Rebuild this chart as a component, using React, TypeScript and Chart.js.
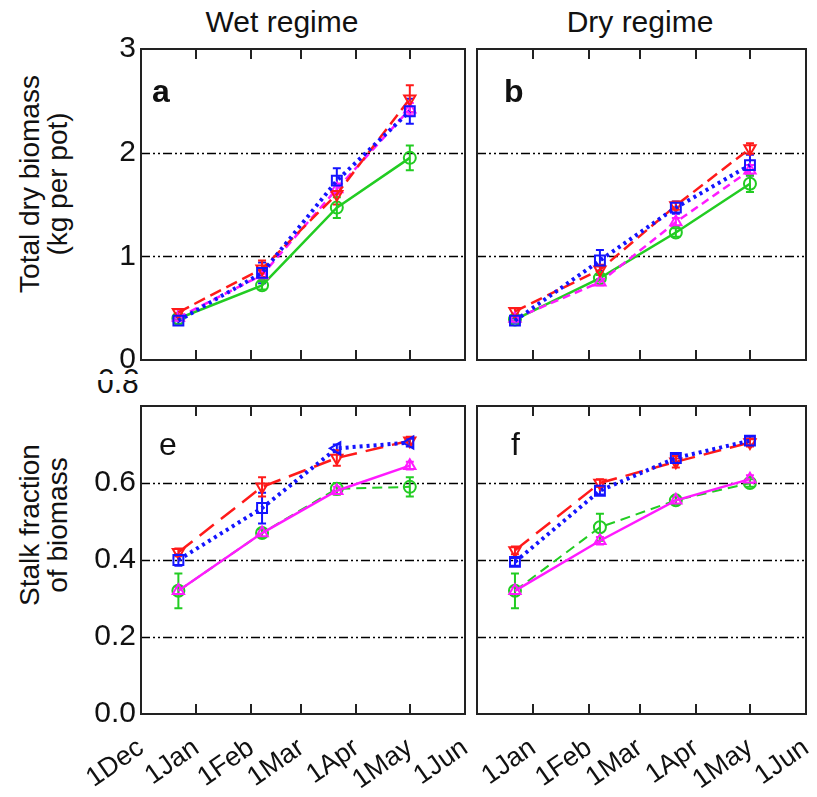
import React, { useEffect, useRef } from 'react';
import { Chart, registerables } from 'chart.js';

Chart.register(...registerables);

const FONT = '"Liberation Sans", Arial, Helvetica, sans-serif';

// ---- axes ----
const tickDays = [0, 31, 62, 90, 121, 151, 182]; // days since 1 Dec
const tickLabels = ['1Dec', '1Jan', '1Feb', '1Mar', '1Apr', '1May', '1Jun'];
const sampleDays = [21, 68, 110, 151];
const biomassGrid = [1, 2];
const fractionGrid = [0.2, 0.4, 0.6];

// ---- panel a: wet regime, total dry biomass (kg per pot) ----
const wetBiomassRed = [0.46, 0.88, 1.6, 2.52];
const wetBiomassRedErr = [0.03, 0.08, 0.1, 0.13];
const wetBiomassBlue = [0.38, 0.84, 1.73, 2.4];
const wetBiomassBlueErr = [0.03, 0.1, 0.12, 0.12];
const wetBiomassMagenta = [0.41, 0.82, 1.65, 2.42];
const wetBiomassMagentaErr = [0.02, 0.05, 0.05, 0.06];
const wetBiomassGreen = [0.4, 0.72, 1.47, 1.95];
const wetBiomassGreenErr = [0.02, 0.04, 0.1, 0.12];

// ---- panel b: dry regime, total dry biomass ----
const dryBiomassRed = [0.47, 0.87, 1.49, 2.04];
const dryBiomassRedErr = [0.03, 0.05, 0.04, 0.05];
const dryBiomassBlue = [0.38, 0.96, 1.47, 1.88];
const dryBiomassBlueErr = [0.02, 0.1, 0.06, 0.1];
const dryBiomassMagenta = [0.4, 0.75, 1.33, 1.83];
const dryBiomassMagentaErr = [0.02, 0.03, 0.04, 0.05];
const dryBiomassGreen = [0.39, 0.79, 1.23, 1.7];
const dryBiomassGreenErr = [0.02, 0.03, 0.04, 0.08];

// ---- panel e: wet regime, stalk fraction ----
const wetStalkRed = [0.42, 0.59, 0.665, 0.71];
const wetStalkRedErr = [0.01, 0.025, 0.02, 0.01];
const wetStalkBlue = [0.4, 0.535, 0.69, 0.705];
const wetStalkBlueErr = [0.015, 0.04, 0.01, 0.01];
const wetStalkMagenta = [0.32, 0.47, 0.58, 0.645];
const wetStalkMagentaErr = [0.01, 0.01, 0.01, 0.01];
const wetStalkGreen = [0.32, 0.47, 0.585, 0.59];
const wetStalkGreenErr = [0.045, 0.01, 0.015, 0.025];

// ---- panel f: dry regime, stalk fraction ----
const dryStalkRed = [0.425, 0.6, 0.655, 0.705];
const dryStalkRedErr = [0.01, 0.01, 0.015, 0.01];
const dryStalkBlue = [0.395, 0.58, 0.665, 0.71];
const dryStalkBlueErr = [0.01, 0.01, 0.01, 0.01];
const dryStalkMagenta = [0.32, 0.45, 0.555, 0.61];
const dryStalkMagentaErr = [0.01, 0.01, 0.01, 0.01];
const dryStalkGreen = [0.32, 0.485, 0.555, 0.6];
const dryStalkGreenErr = [0.045, 0.035, 0.01, 0.01];

const RED = '#ff1a1a';
const BLUE = '#1414ff';
const MAGENTA = '#ff1aff';
const GREEN = '#22cc22';

type Style = { color: string; dash: number[]; width: number; point: any; rot: any; radius: number };

const topStyles: Record<string, Style> = {
  blue: { color: BLUE, dash: [3, 4], width: 4, point: 'rect', rot: 0, radius: 7 },
  red: { color: RED, dash: [12, 6], width: 2.5, point: 'triangle', rot: 180, radius: 6.5 },
  magenta: { color: MAGENTA, dash: [8, 5], width: 2.5, point: 'triangle', rot: 0, radius: 6.5 },
  green: { color: GREEN, dash: [], width: 2.5, point: 'circle', rot: 0, radius: 6 },
};

const bottomStyles: Record<string, Style> = {
  blue: { color: BLUE, dash: [3, 4], width: 4, point: 'rect', rot: 0, radius: 7 },
  red: { color: RED, dash: [18, 9], width: 2.5, point: 'triangle', rot: 180, radius: 6.5 },
  magenta: { color: MAGENTA, dash: [], width: 2.5, point: 'triangle', rot: 0, radius: 6.5 },
  green: { color: GREEN, dash: [10, 6], width: 2, point: 'circle', rot: 0, radius: 6 },
};

function makeDataset(key: string, values: number[], style: Style, point?: any, rot?: any) {
  return {
    label: key,
    data: sampleDays.map((d, i) => ({ x: d, y: values[i] })),
    borderColor: style.color,
    backgroundColor: 'rgba(255,255,255,0)',
    borderWidth: style.width,
    borderDash: style.dash,
    pointStyle: point ?? style.point,
    rotation: rot ?? style.rot,
    pointRadius: style.radius,
    pointBorderWidth: 2,
    pointBorderColor: style.color,
    pointBackgroundColor: 'rgba(255,255,255,0)',
    tension: 0,
    fill: false,
  };
}

type PanelSpec = {
  id: string;
  cx: number; cy: number; cw: number; ch: number;
  pad: { left: number; top: number; right: number; bottom: number };
  showY: boolean; showX: boolean; hideFirstX: boolean;
  yMax: number; yStep: number; yDecimals: number; hideTopY: boolean;
  grid: number[];
  datasets: any[];
  errors: number[][];
};

function panelPlugin(spec: PanelSpec) {
  return {
    id: 'panelDecor',
    beforeDatasetsDraw(chart: any) {
      const { ctx, chartArea: a, scales } = chart;
      const x = scales.x, y = scales.y;
      ctx.save();
      ctx.strokeStyle = '#000';
      ctx.lineWidth = 1.6;
      ctx.setLineDash([9, 3, 2, 3, 2, 3]);
      spec.grid.forEach((g) => {
        const py = Math.round(y.getPixelForValue(g)) + 0.5;
        ctx.beginPath();
        ctx.moveTo(a.left, py);
        ctx.lineTo(a.right, py);
        ctx.stroke();
      });
      ctx.setLineDash([]);
      chart.data.datasets.forEach((ds: any, i: number) => {
        const err = spec.errors[i];
        ctx.strokeStyle = ds.borderColor;
        ctx.lineWidth = 2;
        ds.data.forEach((pt: any, j: number) => {
          const e = err[j];
          const px = x.getPixelForValue(pt.x);
          const t = y.getPixelForValue(pt.y + e);
          const b = y.getPixelForValue(pt.y - e);
          ctx.beginPath();
          ctx.moveTo(px, t);
          ctx.lineTo(px, b);
          ctx.moveTo(px - 4, t);
          ctx.lineTo(px + 4, t);
          ctx.moveTo(px - 4, b);
          ctx.lineTo(px + 4, b);
          ctx.stroke();
        });
      });
      ctx.restore();
    },
    afterDraw(chart: any) {
      const { ctx, chartArea: a, scales } = chart;
      const x = scales.x;
      ctx.save();
      ctx.strokeStyle = '#222';
      ctx.lineWidth = 2;
      ctx.strokeRect(a.left, a.top, a.right - a.left, a.bottom - a.top);
      tickDays.slice(1, -1).forEach((d) => {
        const px = Math.round(x.getPixelForValue(d));
        ctx.beginPath();
        ctx.moveTo(px, a.bottom);
        ctx.lineTo(px, a.bottom - 10);
        ctx.moveTo(px, a.top);
        ctx.lineTo(px, a.top + 10);
        ctx.stroke();
      });
      ctx.restore();
    },
  };
}

function buildConfig(spec: PanelSpec): any {
  return {
    type: 'line',
    data: { datasets: spec.datasets },
    options: {
      animation: false,
      responsive: false,
      devicePixelRatio: 1,
      layout: { padding: spec.pad },
      plugins: { legend: { display: false }, tooltip: { enabled: false }, title: { display: false } },
      scales: {
        x: {
          type: 'linear',
          min: 0,
          max: 182,
          display: spec.showX,
          grid: { display: false, drawTicks: false },
          border: { display: false },
          afterBuildTicks: (s: any) => {
            s.ticks = tickDays.map((v) => ({ value: v }));
          },
          afterFit: (s: any) => {
            if (spec.showX) s.height = 83;
          },
          ticks: {
            autoSkip: false,
            minRotation: 35,
            maxRotation: 35,
            padding: 18,
            color: '#111',
            font: { family: FONT, size: 27 },
            callback: (v: number) => {
              const i = tickDays.indexOf(v);
              if (i < 0) return '';
              if (i === 0 && spec.hideFirstX) return '';
              return tickLabels[i];
            },
          },
        },
        y: {
          type: 'linear',
          min: 0,
          max: spec.yMax,
          display: spec.showY,
          grid: { display: false, drawTicks: false },
          border: { display: false },
          afterFit: (s: any) => {
            if (spec.showY) s.width = 141;
          },
          ticks: {
            stepSize: spec.yStep,
            padding: 5,
            color: '#111',
            font: { family: FONT, size: 30 },
            callback: (v: number) => {
              if (spec.hideTopY && Math.abs(v - spec.yMax) < 1e-6) return '';
              return v.toFixed(spec.yDecimals);
            },
          },
        },
      },
    },
    plugins: [panelPlugin(spec)],
  };
}

// canvases are made larger than the plot areas so label padding
// never pushes the plot area inward
const panels: PanelSpec[] = [
  {
    id: 'a', cx: 0, cy: 0, cw: 520, ch: 400,
    pad: { left: 0, top: 49, right: 55, bottom: 40 },
    showY: true, showX: false, hideFirstX: false,
    yMax: 3, yStep: 1, yDecimals: 0, hideTopY: false,
    grid: biomassGrid,
    datasets: [
      makeDataset('blue', wetBiomassBlue, topStyles.blue),
      makeDataset('red', wetBiomassRed, topStyles.red),
      makeDataset('magenta', wetBiomassMagenta, topStyles.magenta),
      makeDataset('green', wetBiomassGreen, topStyles.green),
    ],
    errors: [wetBiomassBlueErr, wetBiomassRedErr, wetBiomassMagentaErr, wetBiomassGreenErr],
  },
  {
    id: 'b', cx: 420, cy: 0, cw: 440, ch: 400,
    pad: { left: 57, top: 49, right: 54, bottom: 40 },
    showY: false, showX: false, hideFirstX: true,
    yMax: 3, yStep: 1, yDecimals: 0, hideTopY: false,
    grid: biomassGrid,
    datasets: [
      makeDataset('blue', dryBiomassBlue, topStyles.blue),
      makeDataset('red', dryBiomassRed, topStyles.red),
      makeDataset('magenta', dryBiomassMagenta, topStyles.magenta),
      makeDataset('green', dryBiomassGreen, topStyles.green),
    ],
    errors: [dryBiomassBlueErr, dryBiomassRedErr, dryBiomassMagentaErr, dryBiomassGreenErr],
  },
  {
    id: 'e', cx: 0, cy: 375, cw: 520, ch: 422,
    pad: { left: 0, top: 31, right: 55, bottom: 0 },
    showY: true, showX: true, hideFirstX: false,
    yMax: 0.8, yStep: 0.2, yDecimals: 1, hideTopY: true,
    grid: fractionGrid,
    datasets: [
      makeDataset('blue', wetStalkBlue, bottomStyles.blue, ['rect', 'rect', 'triangle', 'triangle'], [0, 0, -90, -90]),
      makeDataset('red', wetStalkRed, bottomStyles.red),
      makeDataset('magenta', wetStalkMagenta, bottomStyles.magenta),
      makeDataset('green', wetStalkGreen, bottomStyles.green),
    ],
    errors: [wetStalkBlueErr, wetStalkRedErr, wetStalkMagentaErr, wetStalkGreenErr],
  },
  {
    id: 'f', cx: 420, cy: 375, cw: 440, ch: 422,
    pad: { left: 57, top: 31, right: 54, bottom: 0 },
    showY: false, showX: true, hideFirstX: true,
    yMax: 0.8, yStep: 0.2, yDecimals: 1, hideTopY: true,
    grid: fractionGrid,
    datasets: [
      makeDataset('blue', dryStalkBlue, bottomStyles.blue),
      makeDataset('red', dryStalkRed, bottomStyles.red),
      makeDataset('magenta', dryStalkMagenta, bottomStyles.magenta),
      makeDataset('green', dryStalkGreen, bottomStyles.green),
    ],
    errors: [dryStalkBlueErr, dryStalkRedErr, dryStalkMagentaErr, dryStalkGreenErr],
  },
];

function Panel({ spec }: { spec: PanelSpec }) {
  const ref = useRef<HTMLCanvasElement | null>(null);
  useEffect(() => {
    if (!ref.current) return;
    const chart = new Chart(ref.current, buildConfig(spec));
    return () => chart.destroy();
  }, [spec]);
  return (
    <canvas
      ref={ref}
      width={spec.cw}
      height={spec.ch}
      style={{ position: 'absolute', left: spec.cx, top: spec.cy, width: spec.cw, height: spec.ch }}
    />
  );
}

function Label({ text, left, baseline, size, bold }: { text: string; left: number; baseline: number; size: number; bold?: boolean }) {
  return (
    <div
      style={{
        position: 'absolute', left, top: baseline - 0.8465 * size, fontSize: size, lineHeight: `${size}px`,
        fontWeight: bold ? 'bold' : 'normal', whiteSpace: 'nowrap',
      }}
    >
      {text}
    </div>
  );
}

function ClipText({ text, left, top, height, baseline }: { text: string; left: number; top: number; height: number; baseline: number }) {
  return (
    <div style={{ position: 'absolute', left, top, width: 50, height, overflow: 'hidden' }}>
      <div style={{ position: 'absolute', left: 0, top: baseline - top - 25.4, fontSize: 30, lineHeight: '30px', whiteSpace: 'nowrap' }}>
        {text}
      </div>
    </div>
  );
}

function YTitle({ lines, cx, cy }: { lines: string[]; cx: number; cy: number }) {
  return (
    <div
      style={{
        position: 'absolute', left: cx - 170, top: cy - 28, width: 340, height: 56,
        fontSize: 28, lineHeight: '28px', textAlign: 'center', transform: 'rotate(-90deg)', whiteSpace: 'nowrap',
      }}
    >
      {lines.map((l) => (
        <div key={l}>{l}</div>
      ))}
    </div>
  );
}

export default function App() {
  return (
    <div
      style={{
        position: 'absolute', left: 0, top: 0, width: 817, height: 797, background: '#fff',
        overflow: 'hidden', fontFamily: FONT, color: '#111',
      }}
    >
      <div style={{ position: 'absolute', left: 182, top: 7, width: 200, textAlign: 'center', fontSize: 30, lineHeight: '30px' }}>
        Wet regime
      </div>
      <div style={{ position: 'absolute', left: 540, top: 7, width: 200, textAlign: 'center', fontSize: 30, lineHeight: '30px' }}>
        Dry regime
      </div>
      <YTitle lines={['Total dry biomass', '(kg per pot)']} cx={44} cy={184} />
      <YTitle lines={['Stalk fraction', 'of biomass']} cx={44} cy={525} />
      <ClipText text="0.0" left={98} top={367} height={7} baseline={389.5} />
      <ClipText text="0.8" left={97} top={380} height={20} baseline={393} />
      {panels.map((p) => (
        <Panel key={p.id} spec={p} />
      ))}
      <Label text="a" left={152} baseline={102} size={32} bold />
      <Label text="b" left={504} baseline={102} size={32} bold />
      <Label text="e" left={159} baseline={455} size={32} />
      <Label text="f" left={511} baseline={455} size={32} />
    </div>
  );
}
